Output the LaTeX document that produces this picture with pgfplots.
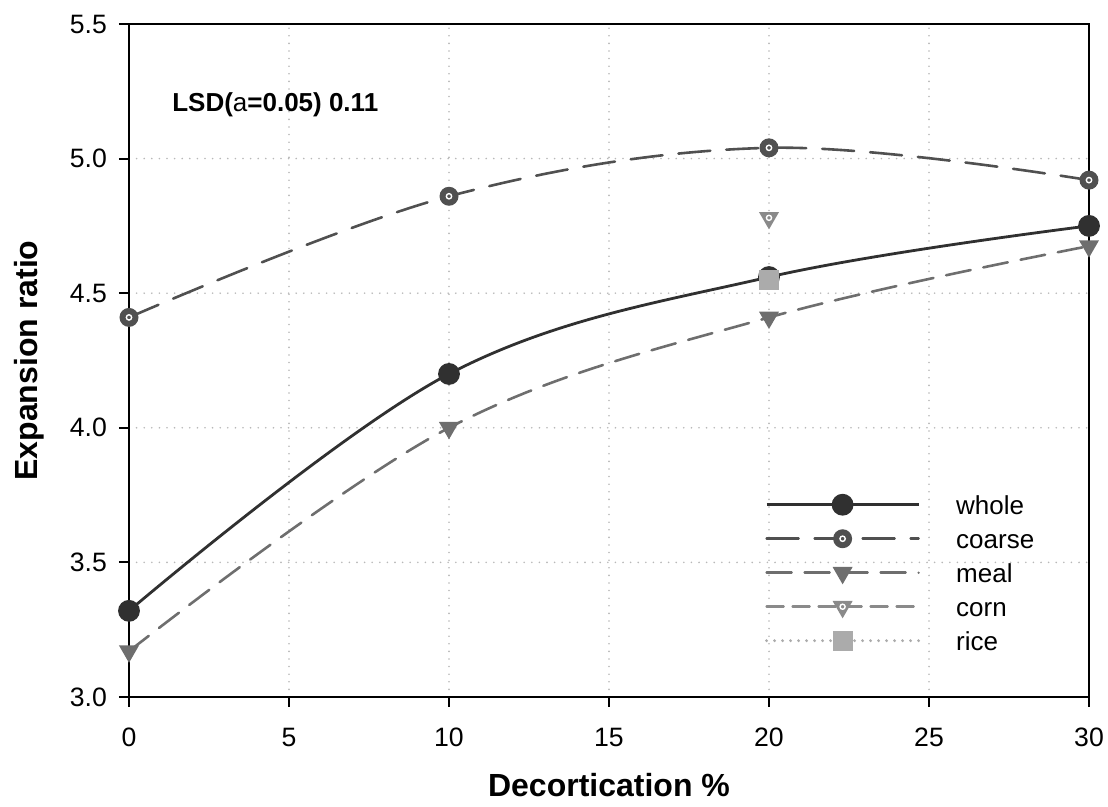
\documentclass[border=0pt]{standalone}
\usepackage{pgfplots}
\pgfplotsset{compat=1.18}
\usepackage{fontspec}
\setmainfont{Liberation Sans}
\definecolor{cwhole}{HTML}{303030}
\definecolor{ccoarse}{HTML}{505050}
\definecolor{cmeal}{HTML}{6E6E6E}
\definecolor{ccorn}{HTML}{8A8A8A}
\definecolor{crice}{HTML}{ABABAB}
\definecolor{cgrid}{HTML}{B8B8B8}
\pgfdeclareplotmark{ringdot}{%
  \pgfpathcircle{\pgfpointorigin}{\pgfplotmarksize}\pgfusepathqfill
  \pgfsetstrokecolor{white}\pgfsetlinewidth{0.7pt}%
  \pgfpathcircle{\pgfpointorigin}{0.28\pgfplotmarksize}\pgfusepathqstroke}
\pgfdeclareplotmark{dtri}{%
  \pgfpathmoveto{\pgfqpoint{0pt}{-\pgfplotmarksize}}%
  \pgfpathlineto{\pgfqpoint{0.866\pgfplotmarksize}{0.5\pgfplotmarksize}}%
  \pgfpathlineto{\pgfqpoint{-0.866\pgfplotmarksize}{0.5\pgfplotmarksize}}%
  \pgfpathclose\pgfusepathqfill}
\pgfdeclareplotmark{dtriring}{%
  \pgfpathmoveto{\pgfqpoint{0pt}{-\pgfplotmarksize}}%
  \pgfpathlineto{\pgfqpoint{0.866\pgfplotmarksize}{0.5\pgfplotmarksize}}%
  \pgfpathlineto{\pgfqpoint{-0.866\pgfplotmarksize}{0.5\pgfplotmarksize}}%
  \pgfpathclose\pgfusepathqfill
  \pgfsetstrokecolor{white}\pgfsetlinewidth{0.7pt}%
  \pgfpathcircle{\pgfpointorigin}{0.22\pgfplotmarksize}\pgfusepathqstroke}
\begin{document}
\begin{tikzpicture}
\begin{axis}[
  scale only axis, width=480pt, height=336.5pt,
  xmin=0, xmax=30, ymin=3, ymax=5.5,
  xtick={0,5,...,30}, ytick={3,3.5,...,5.5},
  yticklabel style={/pgf/number format/.cd, fixed, fixed zerofill, precision=1, /tikz/.cd, xshift=-2.5pt},
  xticklabel style={yshift=-7pt},
  /pgf/number format/assume math mode=true,
  tick align=outside, xtick pos=bottom, ytick pos=left,
  major tick length=5pt,
  every tick/.style={black, line width=1pt},
  axis line style={line width=1pt},
  grid=major,
  major grid style={cgrid, line width=0.9pt, dash pattern=on 0pt off 3.8pt, line cap=round},
  ticklabel style={font=\fontsize{13.3}{15}\selectfont},
  label style={font=\bfseries\fontsize{16}{19}\selectfont},
  xlabel={Decortication \%}, ylabel={Expansion ratio},
  xlabel style={at={(axis description cs:0.5,-0.1308)}, anchor=center},
  ylabel style={at={(axis description cs:-0.1042,0.5)}, anchor=center},
  legend cell align=left,
  legend image code/.code={\draw[mark repeat=2,mark phase=2,#1] plot coordinates {(0pt,0pt) (38pt,0pt) (76pt,0pt)};},
  legend style={draw=none, fill=none, inner sep=0pt, outer sep=0pt,
    at={(axis description cs:0.6625,0.3105)}, anchor=north west,
    font=\fontsize{13}{15}\selectfont, row sep=0.3pt, column sep=18pt,
    nodes={inner sep=0pt, text height=13pt, text depth=3.7pt, anchor=west}},
]
\addplot[cwhole, line width=1.4pt, smooth, tension=0.6, mark=*, mark size=4.75pt,
  mark options={solid, fill=cwhole, draw=none}]
  coordinates {(0,3.32) (10,4.20) (20,4.56) (30,4.75)};
\addlegendentry{whole}
\addplot[ccoarse, line width=1.3pt, smooth, tension=0.6, line cap=round, dash pattern=on 16pt off 8pt,
  mark=ringdot, mark size=4.75pt, mark options={solid, fill=ccoarse}]
  coordinates {(0,4.41) (10,4.86) (20,5.04) (30,4.92)};
\addlegendentry{coarse}
\addplot[cmeal, line width=1.3pt, smooth, tension=0.6, line cap=round, dash pattern=on 12.5pt off 6.5pt,
  mark=dtri, mark size=5.8pt, mark options={solid, fill=cmeal}]
  coordinates {(0,3.17) (10,4.00) (20,4.41) (30,4.675)};
\addlegendentry{meal}
\addplot[ccorn, line width=1.3pt, smooth, line cap=round, dash pattern=on 8.5pt off 4.5pt,
  mark=dtriring, mark size=5.8pt, mark options={solid, fill=ccorn}]
  coordinates {(20,4.78)};
\addlegendentry{corn}
\addplot[crice, line width=1.6pt, line cap=round, dash pattern=on 0pt off 4pt,
  mark=square*, mark size=4.2pt, mark options={solid, fill=crice, draw=none}]
  coordinates {(20,4.55)};
\addlegendentry{rice}
\node[anchor=west, inner sep=0pt, font=\bfseries\fontsize{13}{15}\selectfont]
  at (axis cs:1.34,5.2) {LSD(\textmd{a}=0.05) 0.11};
\end{axis}
\pgfresetboundingbox
\path[use as bounding box] ([xshift=-64.5pt,yshift=-55pt]current axis.south west) rectangle ([xshift=9.5pt,yshift=12pt]current axis.north east);
\end{tikzpicture}
\end{document}
